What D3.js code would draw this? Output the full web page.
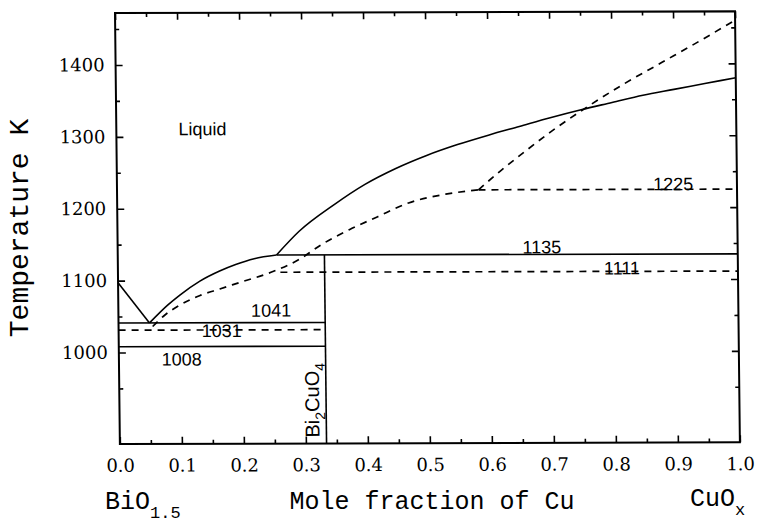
<!DOCTYPE html>
<html>
<head>
<meta charset="utf-8">
<style>
	body { margin: 0; background: #fff; }
	svg { display: block; }
	.frame { fill: none; stroke: #000; stroke-width: 2; }
	.axis path { display: none; }
	.axis line { stroke: #000; stroke-width: 1.6; }
	.axis text { font-family: "DejaVu Serif"; font-size: 18px; fill: #000; }
	.solid { fill: none; stroke: #000; stroke-width: 1.6; }
	.dash { fill: none; stroke: #000; stroke-width: 1.7; stroke-dasharray: 7 6; }
	.lbl { font-family: "Liberation Sans"; font-size: 18px; fill: #000; }
	.title { font-family: "Liberation Mono"; fill: #000; }
</style>
</head>
<body>
<div id="chart"></div>
<script src="https://cdn.jsdelivr.net/npm/d3@7/dist/d3.min.js"></script>
<script>
	// tick values
	const xTicks = [0, 0.1, 0.2, 0.3, 0.4, 0.5, 0.6, 0.7, 0.8, 0.9, 1.0];
	const xMinor = [0.05, 0.15, 0.25, 0.35, 0.45, 0.55, 0.65, 0.75, 0.85, 0.95];
	const yTicks = [1000, 1100, 1200, 1300, 1400];
	const yMinor = [950, 1050, 1150, 1250, 1350, 1450];

	// liquidus (solid)
	const liqLeftX = [0, 0.05];
	const liqLeftT = [1097, 1041];
	const liqMidX = [0.05, 0.08, 0.10, 0.132, 0.164, 0.19, 0.22, 0.256];
	const liqMidT = [1041, 1066, 1080, 1099, 1113, 1122, 1130, 1135];
	const liqHighX = [0.256, 0.293, 0.35, 0.40, 0.45, 0.50, 0.55, 0.60, 0.65, 0.70, 0.75, 0.80, 0.85, 0.90, 0.95, 1.0];
	const liqHighT = [1135, 1168, 1205, 1233, 1255, 1273, 1288, 1301, 1313, 1325, 1336, 1346, 1356, 1364, 1372, 1380];

	// dashed curve
	const dashLowX = [0.055, 0.075, 0.10, 0.132, 0.164, 0.20, 0.25, 0.293, 0.33, 0.374, 0.42, 0.47, 0.53, 0.583];
	const dashLowT = [1036, 1052, 1066, 1079, 1088, 1098, 1112, 1129, 1150, 1170, 1188, 1207, 1219, 1225];
	const dashHighX = [0.583, 0.62, 0.66, 0.70, 0.76, 0.82, 0.88, 0.94, 1.0];
	const dashHighT = [1225, 1252, 1279, 1305, 1340, 1372, 1401, 1430, 1460];

	// invariant lines: temperature, from, to, style
	const isoT = [1041, 1031, 1008, 1135, 1111, 1225];
	const isoFrom = [0, 0, 0, 0.256, 0.262, 0.583];
	const isoTo = [1 / 3, 1 / 3, 1 / 3, 1, 1, 1];
	const isoDashed = [false, true, false, false, true, true];

	// Bi2CuO4 compound line
	const compoundX = 1 / 3;

	const W = 757, H = 524;
	const margin = { left: 115, top: 13 };
	const width = 620, height = 431;

	const svg = d3.select("#chart").append("svg")
		.attr("width", W)
		.attr("height", H);

	// the scan is slightly tilted, so tilt the plot a touch too
	const g = svg.append("g")
		.attr("transform", `translate(${margin.left},${margin.top}) rotate(-0.15) skewX(0.5)`);

	const x = d3.scaleLinear().domain([0, 1]).range([0, width]);
	const y = d3.scaleLinear().domain([872.7, 1472.3]).range([height, 0]);

	// axes, ticks pointing inward
	g.append("g").attr("class", "axis")
		.attr("transform", `translate(0,${height})`)
		.call(d3.axisBottom(x).tickValues(xTicks).tickSize(-7).tickPadding(15).tickFormat(d3.format(".1f")));
	g.append("g").attr("class", "axis")
		.attr("transform", `translate(0,${height})`)
		.call(d3.axisBottom(x).tickValues(xMinor).tickSize(-4).tickFormat(""));
	g.append("g").attr("class", "axis")
		.call(d3.axisTop(x).tickValues(xTicks).tickSize(-7).tickFormat(""));
	g.append("g").attr("class", "axis")
		.call(d3.axisTop(x).tickValues(xMinor).tickSize(-4).tickFormat(""));
	g.append("g").attr("class", "axis")
		.call(d3.axisLeft(y).tickValues(yTicks).tickSize(-7).tickPadding(11).tickFormat(d3.format("d")));
	g.append("g").attr("class", "axis")
		.call(d3.axisLeft(y).tickValues(yMinor).tickSize(-4).tickFormat(""));
	g.append("g").attr("class", "axis")
		.attr("transform", `translate(${width},0)`)
		.call(d3.axisRight(y).tickValues(yTicks).tickSize(-7).tickFormat(""));
	g.append("g").attr("class", "axis")
		.attr("transform", `translate(${width},0)`)
		.call(d3.axisRight(y).tickValues(yMinor).tickSize(-4).tickFormat(""));

	g.append("rect").attr("class", "frame")
		.attr("x", 0).attr("y", 0)
		.attr("width", width).attr("height", height);

	const line = d3.line()
		.x(d => x(d[0]))
		.y(d => y(d[1]))
		.curve(d3.curveMonotoneX);

	function draw(xs, ts, cls) {
		g.append("path")
			.datum(d3.zip(xs, ts))
			.attr("class", cls)
			.attr("d", line);
	}

	draw(liqLeftX, liqLeftT, "solid");
	draw(liqMidX, liqMidT, "solid");
	draw(liqHighX, liqHighT, "solid");
	draw(dashLowX, dashLowT, "dash");
	draw(dashHighX, dashHighT, "dash");

	isoT.forEach((t, i) => {
		g.append("line")
			.attr("class", isoDashed[i] ? "dash" : "solid")
			.attr("x1", x(isoFrom[i])).attr("x2", x(isoTo[i]))
			.attr("y1", y(t)).attr("y2", y(t));
	});

	g.append("line").attr("class", "solid")
		.attr("x1", x(compoundX)).attr("x2", x(compoundX))
		.attr("y1", y(1135)).attr("y2", height);

	// temperature labels on the invariant lines
	const labelX = [0.214, 0.134, 0.069, 0.653, 0.784, 0.865];
	const labelShift = [-6, 7, 19, -1, 3, 1];
	isoT.forEach((t, i) => {
		g.append("text").attr("class", "lbl")
			.attr("x", x(labelX[i]))
			.attr("y", y(t) + labelShift[i])
			.text(t);
	});

	g.append("text").attr("class", "lbl")
		.attr("x", x(0.1)).attr("y", y(1302))
		.text("Liquid");

	const comp = g.append("text").attr("class", "lbl")
		.style("font-size", "20px")
		.attr("transform", `translate(${x(compoundX) - 7},${y(881)}) rotate(-90)`);
	comp.append("tspan").text("Bi");
	comp.append("tspan").attr("dy", 6).style("font-size", "14px").text("2");
	comp.append("tspan").attr("dy", -6).text("CuO");
	comp.append("tspan").attr("dy", 6).style("font-size", "14px").text("4");

	// axis titles
	svg.append("text").attr("class", "title")
		.attr("transform", "translate(28,228) rotate(-90)")
		.attr("text-anchor", "middle")
		.style("font-size", "28px")
		.text("Temperature K");

	const left = svg.append("text").attr("class", "title")
		.attr("x", 105).attr("y", 509)
		.style("font-size", "25px");
	left.append("tspan").text("BiO");
	left.append("tspan").attr("dy", 9).style("font-size", "17px").text("1.5");

	svg.append("text").attr("class", "title")
		.attr("x", 432).attr("y", 509)
		.attr("text-anchor", "middle")
		.style("font-size", "25px")
		.text("Mole fraction of Cu");

	const right = svg.append("text").attr("class", "title")
		.attr("x", 690).attr("y", 506)
		.style("font-size", "25px");
	right.append("tspan").text("CuO");
	right.append("tspan").attr("dy", 9).style("font-size", "17px").text("x");
</script>
</body>
</html>
